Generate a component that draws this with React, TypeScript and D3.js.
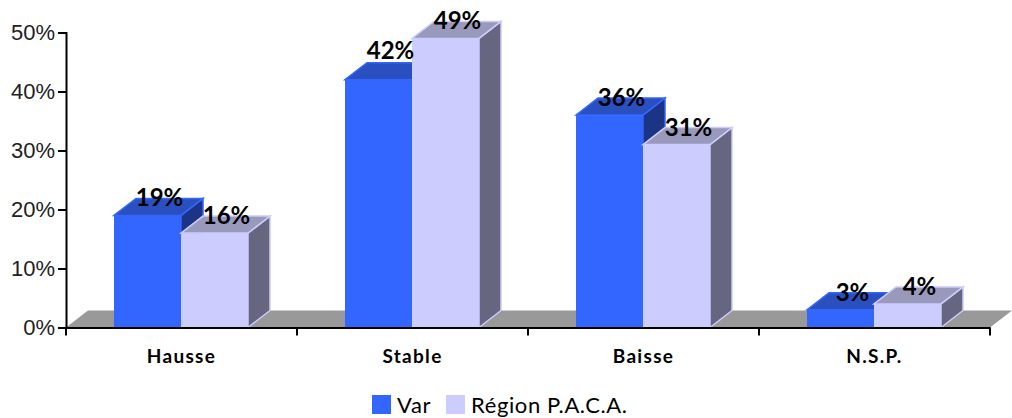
import { useEffect, useRef } from "react";
import * as d3 from "d3";

const categories = ["Hausse", "Stable", "Baisse", "N.S.P."];
const seriesNames = ["Var", "Région P.A.C.A."];
const varValues = [19, 42, 36, 3];
const pacaValues = [16, 49, 31, 4];
const yTicks = [0, 10, 20, 30, 40, 50];

const WIDTH = 1012;
const HEIGHT = 418;
const DEPTH_X = 22;
const DEPTH_Y = 17;
const HAND_FONT = "Lato, 'Open Sans', sans-serif";

const colors = [
  { front: "#3366ff", top: "#2a4fbf", side: "#1c3485", edge: "#3366ff" },
  { front: "#ccccff", top: "#9999bb", side: "#666680", edge: "#ccccff" },
];

function App() {
  const ref = useRef<SVGSVGElement>(null);

  useEffect(() => {
    const svg = d3.select(ref.current);
    svg.selectAll("*").remove();

    const x = d3.scaleBand().domain(categories).range([66, 990]);
    const y = d3.scaleLinear().domain([0, 50]).range([327.5, 32.5]);
    // les deux barres occupent le milieu de chaque groupe
    const inner = d3
      .scaleBand()
      .domain(seriesNames)
      .range([48, x.bandwidth() - 49]);

    const base = y(0);

    // sol gris
    svg
      .append("path")
      .attr(
        "d",
        `M66,${base}L${66 + DEPTH_X},${base - DEPTH_Y}H${WIDTH}L990,${base}Z`
      )
      .attr("fill", "#999999");

    const rows = categories.flatMap((cat, i) => [
      { cat, s: 0, value: varValues[i] },
      { cat, s: 1, value: pacaValues[i] },
    ]);

    const bars = svg
      .selectAll(".bar")
      .data(rows)
      .enter()
      .append("g")
      .attr("class", "bar");

    const left = (d) => x(d.cat) + inner(seriesNames[d.s]);
    const right = (d) => left(d) + inner.bandwidth();

    bars
      .append("path")
      .attr(
        "d",
        (d) =>
          `M${right(d)},${y(d.value)}l${DEPTH_X},${-DEPTH_Y}V${
            base - DEPTH_Y
          }L${right(d)},${base}Z`
      )
      .attr("fill", (d) => colors[d.s].side)
      .attr("stroke", (d) => colors[d.s].edge)
      .attr("stroke-width", 1.5);

    bars
      .append("path")
      .attr(
        "d",
        (d) =>
          `M${left(d)},${y(d.value)}l${DEPTH_X},${-DEPTH_Y}H${
            right(d) + DEPTH_X
          }L${right(d)},${y(d.value)}Z`
      )
      .attr("fill", (d) => colors[d.s].top)
      .attr("stroke", (d) => colors[d.s].edge)
      .attr("stroke-width", 1.5);

    bars
      .append("rect")
      .attr("x", left)
      .attr("y", (d) => y(d.value))
      .attr("width", inner.bandwidth())
      .attr("height", (d) => base - y(d.value))
      .attr("fill", (d) => colors[d.s].front);

    // étiquettes au-dessus de tout
    svg
      .selectAll(".label")
      .data(rows)
      .enter()
      .append("text")
      .attr("class", "label")
      .attr("x", (d) => left(d) + inner.bandwidth() / 2 + 12)
      .attr("y", (d) => y(d.value) - (d.value === 42 ? 21 : 9))
      .attr("text-anchor", "middle")
      .attr("font-family", HAND_FONT)
      .attr("font-weight", 700)
      .attr("font-size", 24)
      .attr("fill", "#000")
      .text((d) => `${d.value}%`);

    // axes
    const yAxis = svg
      .append("g")
      .attr("transform", "translate(66,0)")
      .call(
        d3
          .axisLeft(y)
          .tickValues(yTicks)
          .tickSize(8)
          .tickFormat((d) => `${d}%`)
      );
    yAxis
      .selectAll("text")
      .attr("font-family", "'Liberation Sans', Arial, sans-serif")
      .attr("font-size", 22)
      .attr("fill", "#222")
      .attr("dx", "0");

    const xAxis = svg
      .append("g")
      .attr("transform", `translate(0,${base})`)
      .call(d3.axisBottom(x).tickSize(0).tickPadding(22));
    xAxis
      .selectAll("text")
      .attr("font-family", HAND_FONT)
      .attr("font-weight", 700)
      .attr("font-size", 19)
      .attr("letter-spacing", 1.3)
      .attr("fill", "#000");

    xAxis
      .selectAll(".sep")
      .data([...categories.map((c) => x(c)), 990])
      .enter()
      .append("line")
      .attr("class", "sep")
      .attr("x1", (d) => d)
      .attr("x2", (d) => d)
      .attr("y2", 8)
      .attr("stroke", "#000");

    svg
      .selectAll(".domain, .tick line, .sep")
      .attr("stroke", "#000")
      .attr("stroke-width", 2);

    // légende
    const legendX = [372, 446];
    const legend = svg
      .selectAll(".legend")
      .data(seriesNames)
      .enter()
      .append("g")
      .attr("class", "legend")
      .attr("transform", (_, i) => `translate(${legendX[i]},395)`);
    legend
      .append("rect")
      .attr("width", 19)
      .attr("height", 19)
      .attr("fill", (_, i) => colors[i].front);
    legend
      .append("text")
      .attr("x", 25)
      .attr("y", 18)
      .attr("font-family", HAND_FONT)
      .attr("font-size", 22)
      .attr("letter-spacing", 0.6)
      .attr("fill", "#000")
      .text((d) => d);
  }, []);

  return (
    <svg
      ref={ref}
      width={WIDTH}
      height={HEIGHT}
      style={{ position: "absolute", left: 0, top: 0, background: "#fff" }}
    />
  );
}

export default App;
